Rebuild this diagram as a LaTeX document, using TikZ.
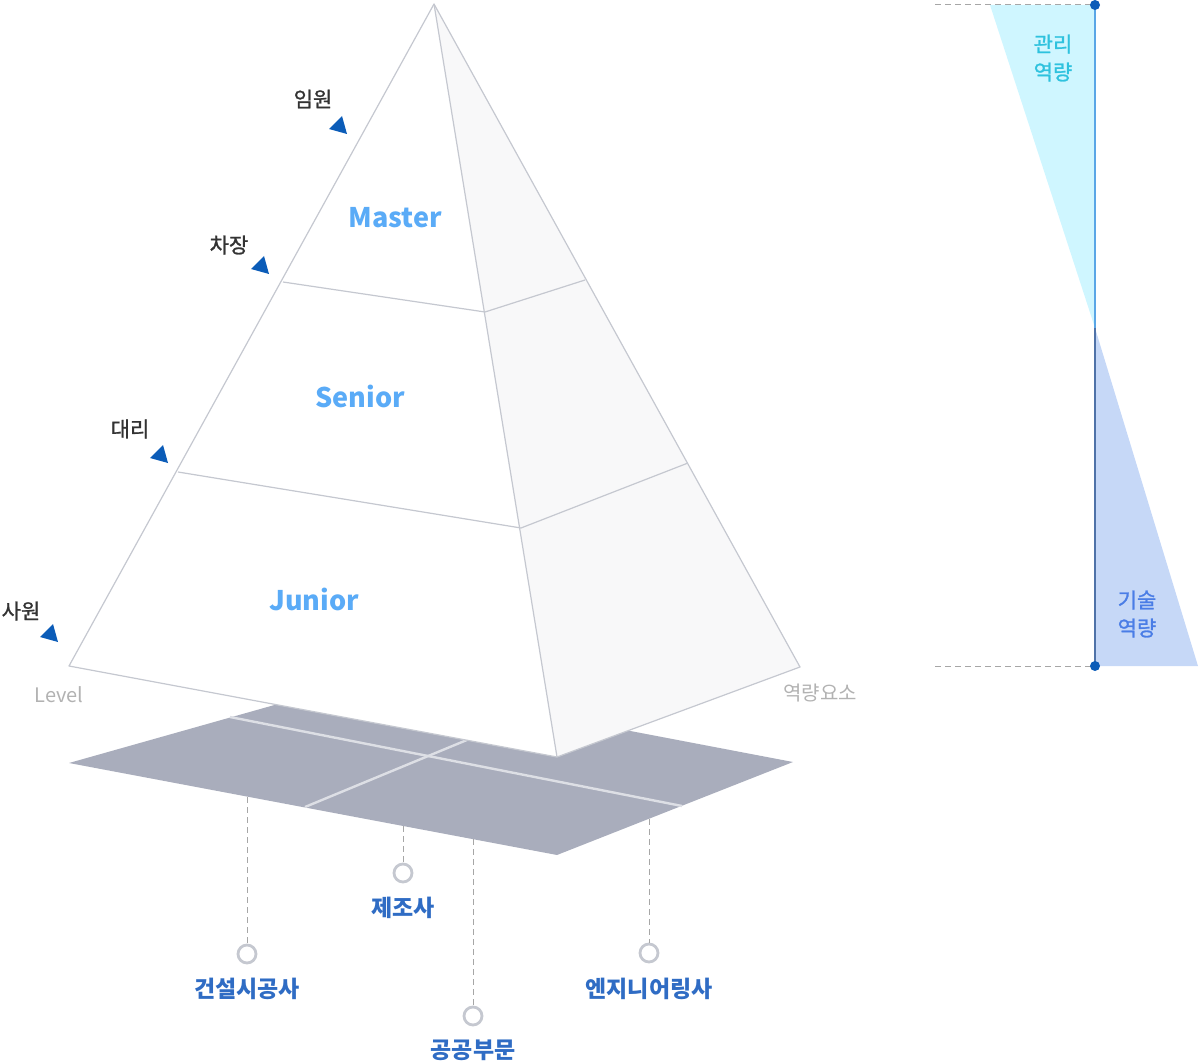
\documentclass[tikz,border=0pt]{standalone}
\usepackage{fontspec}
\setmainfont{Noto Sans CJK KR}
\newfontfamily\medfont[FakeBold=1.2]{Noto Sans CJK KR}
\usetikzlibrary{calc}
\definecolor{edgegray}{HTML}{C5C8D0}
\definecolor{sidegray}{HTML}{F8F8F9}
\definecolor{floorgray}{HTML}{A9ADBC}
\definecolor{floorline}{HTML}{DDDFE5}
\definecolor{markblue}{HTML}{0B5CB8}
\definecolor{layerblue}{HTML}{5AABF7}
\definecolor{sectorblue}{HTML}{2F6CC4}
\definecolor{mgmtfill}{HTML}{CFF6FF}
\definecolor{mgmttext}{HTML}{2EC2DE}
\definecolor{mgmtline}{HTML}{5AA6E6}
\definecolor{techfill}{HTML}{C6D8F7}
\definecolor{techtext}{HTML}{4A7DE6}
\definecolor{techline}{HTML}{4F72A8}
\begin{document}
\begin{tikzpicture}[x=0.5pt,y=-0.5pt,
  edge/.style={draw=edgegray,line width=0.6pt},
  rank/.style={text=black!80,font=\medfont\fontsize{10.5}{12}\selectfont},
  layer/.style={text=layerblue,font=\fontsize{13.5}{15}\selectfont\bfseries},
  sector/.style={text=sectorblue,font=\fontsize{11.5}{13}\selectfont\bfseries},
  axislabel/.style={text=black!30,font=\fontsize{10}{12}\selectfont},
  ring/.style={circle,draw=edgegray,line width=1.4pt,fill=white,minimum size=9pt,inner sep=0pt},
  guide/.style={draw=black!35,dashed,dash pattern=on 3pt off 2pt,line width=0.5pt},
  dot/.style={circle,fill=markblue,minimum size=5pt,inner sep=0pt},
  rankmark/.pic={\fill[markblue] (-10,3) -- (3,-10) -- (8,8) -- cycle;}]
\useasboundingbox (0,0) rectangle (1200,1064);

% floor
\coordinate (fl) at (69,763);
\coordinate (fk) at (363,680);
\coordinate (fr) at (793,762);
\coordinate (ff) at (557,855);
\fill[floorgray] (fl) -- (fk) -- (fr) -- (ff) -- cycle;
\draw[floorline,line width=1.2pt] (230,717) -- (682,806);
\draw[floorline,line width=1.2pt] (305,807) -- (520,718);

% pyramid
\coordinate (apex) at (434,4);
\coordinate (lb) at (69,666);
\coordinate (fb) at (557,757);
\coordinate (rb) at (800,667);
\fill[white] (apex) -- (lb) -- (fb) -- cycle;
\fill[sidegray] (apex) -- (fb) -- (rb) -- cycle;
\draw[edge,line join=round] (apex) -- (lb) -- (fb) -- (rb) -- cycle;
\draw[edge] (apex) -- (fb);
\draw[edge] (283,282) -- (485,312) -- (585,280);
\draw[edge] (178,472) -- (521,528) -- (688,463);

\node[layer] (master) at (395,218) {Master};
\node[layer] (senior) at (360,396) {Senior};
\node[layer] (junior) at (314,599) {Junior};

\node[rank] (r1) at (313,99) {임원};
\node[rank] (r2) at (229,245) {차장};
\node[rank] (r3) at (130,429) {대리};
\node[rank] (r4) at (21,611) {사원};
\pic at (339,126) {rankmark};
\pic at (261,266) {rankmark};
\pic at (160,455) {rankmark};
\pic at (50,634) {rankmark};

\node[axislabel] (lvl) at (59,695) {Level};
\node[axislabel] (comp) at (820,693) {역량요소};

% sectors
\coordinate (s1) at (247,797);
\coordinate (s2) at (403,826);
\coordinate (s3) at (473,839);
\coordinate (s4) at (649,819);
\node[ring] (c1) at (247,954) {};
\node[ring] (c2) at (403,873) {};
\node[ring] (c3) at (473,1016) {};
\node[ring] (c4) at (649,953) {};
\draw[guide] (s1) -- (c1);
\draw[guide] (s2) -- (c2);
\draw[guide] (s3) -- (c3);
\draw[guide] (s4) -- (c4);
\node[sector] (t1) at (247,989) {건설시공사};
\node[sector] (t2) at (403,908) {제조사};
\node[sector] (t3) at (473,1050) {공공부문};
\node[sector] (t4) at (649,989) {엔지니어링사};

% competence scale
\coordinate (top) at (1095,5);
\coordinate (mid) at (1095,328);
\coordinate (bot) at (1095,666);
\fill[mgmtfill] (990,5) -- (top) -- (mid) -- cycle;
\fill[techfill] (mid) -- (bot) -- (1198,666) -- cycle;
\draw[guide] (935,5) -- (top);
\draw[guide] (935,666) -- (bot);
\draw[mgmtline,line width=1pt] (top) -- (mid);
\draw[techline,line width=1pt] (mid) -- (bot);
\node[dot] (dtop) at (top) {};
\node[dot] (dbot) at (bot) {};
\node[text=mgmttext,font=\medfont\fontsize{10.5}{14}\selectfont,align=center] (mgmt) at (1053,58) {관리\\역량};
\node[text=techtext,font=\medfont\fontsize{10.5}{14}\selectfont,align=center] (tech) at (1137,614) {기술\\역량};
\end{tikzpicture}
\end{document}
